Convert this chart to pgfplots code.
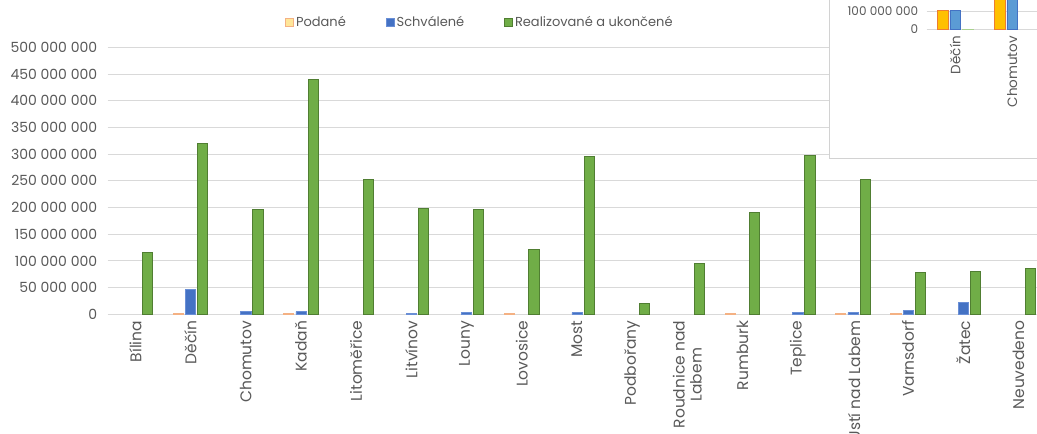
\documentclass[border=0pt]{standalone}
\usepackage{fontspec}
\setmainfont{Poppins}
\usepackage{pgfplots}
\pgfplotsset{compat=1.18}
\definecolor{txt}{HTML}{595959}
\definecolor{gridc}{HTML}{D9D9D9}
\definecolor{podF}{HTML}{FFE699}
\definecolor{podD}{HTML}{F4B183}
\definecolor{schF}{HTML}{4472C4}
\definecolor{schD}{HTML}{6A8FD6}
\definecolor{realF}{HTML}{70AD47}
\definecolor{realD}{HTML}{507E32}
\definecolor{inOF}{HTML}{FFC000}
\definecolor{inOD}{HTML}{ED7D31}
\definecolor{inBF}{HTML}{5B9BD5}
\definecolor{inBD}{HTML}{4472C4}
\definecolor{inGF}{HTML}{A9D18E}
\pgfplotsset{sqlegend/.style={legend image code/.code={\draw[##1, line width=0.8pt] (0pt,-4pt) rectangle (8pt,4pt);}}}
\begin{document}
\begin{tikzpicture}[x=1pt,y=1pt]
\useasboundingbox (0,0) rectangle (1037,434);
\clip (0,0) rectangle (1037,434);
\begin{axis}[
  at={(107.7pt,119.7pt)}, anchor=south west,
  scale only axis, width=938.4pt, height=267pt,
  ybar=2pt, bar width=10.2pt,
  sqlegend,
  xmin=-0.5, xmax=16.5, ymin=0, ymax=500000000,
  clip=false,
  axis line style={draw=none},
  major tick length=0pt,
  ymajorgrids, major grid style={draw=gridc, line width=0.9pt},
  scaled y ticks=false,
  xtick={0,1,2,3,4,5,6,7,8,9,10,11,12,13,14,15,16},
  xticklabels={Bílina,Děčín,Chomutov,Kadaň,Litoměřice,Litvínov,Louny,Lovosice,Most,Podbořany,{Roudnice nad\\Labem},Rumburk,Teplice,Ústí nad Labem,Varnsdorf,Žatec,Neuvedeno},
  ytick={0,50000000,100000000,150000000,200000000,250000000,300000000,350000000,400000000,450000000,500000000},
  yticklabels={0,50 000 000,100 000 000,150 000 000,200 000 000,250 000 000,300 000 000,350 000 000,400 000 000,450 000 000,500 000 000},
  ticklabel style={text=txt},
  xticklabel style={rotate=90, anchor=east, align=center, xshift=-3pt, font=\fontsize{15.5}{17}\selectfont},
  yticklabel style={xshift=-7pt, font=\fontsize{14}{16}\selectfont},
  legend style={at={(0.189,1.095)}, anchor=west, draw=none, fill=none, inner sep=0pt,
    font=\fontsize{13}{15}\selectfont, text=txt, legend columns=-1,
    /tikz/every even column/.append style={column sep=38pt}},
]
\addplot[fill=podF, draw=podD, line width=0.8pt]
  coordinates {(1,1200000) (3,1000000) (7,1000000) (11,900000) (13,1000000) (14,1000000)};
\addlegendentry{Podané}
\addplot[fill=schF, draw=schD, line width=0.6pt]
  coordinates {(1,46000000) (2,5000000) (3,5000000) (5,1500000) (6,3000000) (8,3000000) (12,3000000) (13,3000000) (14,7000000) (15,22000000)};
\addlegendentry{Schválené}
\addplot[fill=realF, draw=realD, line width=1pt]
  coordinates {(0,116000000) (1,319000000) (2,197000000) (3,440000000) (4,253000000) (5,198500000) (6,197000000) (7,122000000) (8,295000000) (9,20600000) (10,94800000) (11,190000000) (12,298000000) (13,253000000) (14,78600000) (15,80500000) (16,86000000)};
\addlegendentry{Realizované a ukončené}
\end{axis}
\fill[white] (829.3,275.7) rectangle (1045,445);
\draw[gray!35, line width=0.8pt] (829.3,445) -- (829.3,275.7) -- (1045,275.7);
\begin{axis}[
  at={(926.7pt,404.5pt)}, anchor=south west,
  scale only axis, width=114pt, height=36pt,
  ybar=2pt, bar width=10.5pt,
  xmin=-0.5, xmax=1.5, ymin=0, ymax=200000000,
  axis line style={draw=none},
  major tick length=0pt,
  ymajorgrids, major grid style={draw=gridc, line width=0.9pt},
  scaled y ticks=false,
  xtick={0,1}, xticklabels={Děčín,Chomutov},
  ytick={0,100000000},
  yticklabels={0,100 000 000},
  ticklabel style={text=txt},
  xticklabel style={rotate=90, anchor=east, xshift=-3pt, font=\fontsize{13.5}{15}\selectfont},
  yticklabel style={xshift=-5pt, font=\fontsize{12}{14}\selectfont},
]
\addplot[fill=inOF, draw=inOD, line width=0.6pt] coordinates {(0,104000000) (1,250000000)};
\addplot[fill=inBF, draw=inBD, line width=0.6pt] coordinates {(0,104000000) (1,250000000)};
\addplot[fill=inGF, draw=inGF, line width=0.6pt] coordinates {(0,1000000)};
\end{axis}
\end{tikzpicture}
\end{document}
